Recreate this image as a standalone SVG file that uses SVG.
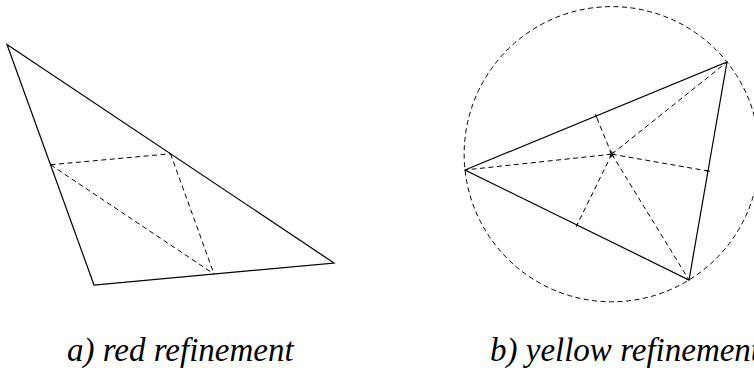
<svg xmlns="http://www.w3.org/2000/svg" width="754" height="378" viewBox="0 0 754 378">
<style>
.solid{fill:none;stroke:#000;stroke-width:1.2;stroke-linejoin:miter}
.dash{fill:none;stroke:#000;stroke-width:1;stroke-dasharray:5 3.5}
.tick{stroke:#000;stroke-width:1}
.cap{font-family:"Liberation Serif","Times New Roman",serif;font-style:italic;font-size:33px;fill:#000}
</style>
<rect width="754" height="378" fill="#fff"/>
<g id="red-refinement">
  <polygon class="solid" points="7,44.5 94,285 334,263"/>
  <g id="red-connectors">
    <line class="dash" x1="50.5" y1="164.75" x2="170.5" y2="153.75"/>
    <line class="dash" x1="50.5" y1="164.75" x2="214" y2="274"/>
    <line class="dash" x1="170.5" y1="153.75" x2="214" y2="274"/>
  </g>
</g>
<g id="yellow-refinement">
  <circle class="dash" cx="611.75" cy="154.2" r="147.6"/>
  <polygon class="solid" points="465,170 727,62 689,280"/>
  <g id="yellow-connectors">
    <line class="dash" x1="611.75" y1="154.2" x2="465" y2="170"/>
    <line class="dash" x1="611.75" y1="154.2" x2="727" y2="62"/>
    <line class="dash" x1="611.75" y1="154.2" x2="689" y2="280"/>
    <line class="dash" x1="611.75" y1="154.2" x2="596" y2="116"/>
    <line class="dash" x1="611.75" y1="154.2" x2="577" y2="225"/>
    <line class="dash" x1="611.75" y1="154.2" x2="708" y2="171"/>
  </g>
  <g id="ticks">
    <line class="tick" x1="597" y1="118" x2="595" y2="114"/>
    <line class="tick" x1="578" y1="223" x2="576" y2="227"/>
    <line class="tick" x1="706" y1="170.6" x2="710" y2="171.4"/>
  </g>
  <g id="center-mark">
    <line class="tick" x1="608.75" y1="154.2" x2="614.75" y2="154.2"/>
    <line class="tick" x1="609.6" y1="151.5" x2="613.9" y2="156.9"/>
    <line class="tick" x1="613.9" y1="151.5" x2="609.6" y2="156.9"/>
    <line class="tick" x1="611.75" y1="151.2" x2="611.75" y2="157.2"/>
  </g>
</g>
<g id="captions">
  <text class="cap" x="67" y="361">a) red refinement</text>
  <text class="cap" x="490" y="361">b) yellow refinement</text>
</g>
</svg>
